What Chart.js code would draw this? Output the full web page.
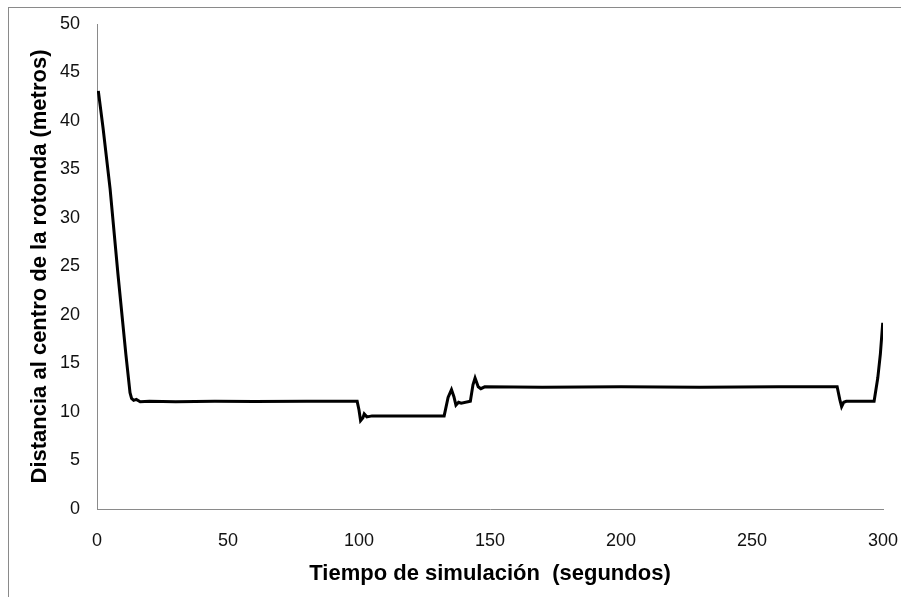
<!DOCTYPE html>
<html>
<head>
<meta charset="utf-8">
<script src="https://cdn.jsdelivr.net/npm/chart.js@4"></script>
<style>
  html, body { margin: 0; padding: 0; background: #fff; }
  #wrap { position: relative; width: 901px; height: 597px; }
  #frame { position: absolute; left: 8px; top: 7px; right: -2px; bottom: -2px;
           border-left: 1px solid #8a8a8a; border-top: 1px solid #8a8a8a; }
  canvas { position: absolute; left: 0; top: 0; }
</style>
</head>
<body>
<div id="wrap">
  <div id="frame"></div>
  <canvas id="myChart" width="901" height="597"></canvas>
</div>
<script>
// tiempo (s) y distancia (m)
const tiempo = [0.5, 2.3, 5, 8, 11, 12.6, 13.2, 14, 15, 16.5, 20, 30, 45, 60, 80, 99.3,
  100, 100.6, 101.5, 102, 103, 105, 120, 132.5,
  134, 135.3, 136.2, 137, 138, 139, 142.5,
  143.5, 144.3, 145.5, 146.5, 148, 170, 200, 230, 260, 282.5,
  283.5, 284.2, 285, 286, 296.6, 298, 299, 299.9];
const distancia = [43.1, 39.3, 33, 24.2, 16, 12, 11.4, 11.2, 11.3, 11.05, 11.1, 11.05, 11.1, 11.08, 11.1, 11.1,
  10.2, 9.1, 9.4, 9.8, 9.5, 9.6, 9.6, 9.6,
  11.5, 12.3, 11.6, 10.7, 11.0, 10.9, 11.1,
  12.8, 13.5, 12.6, 12.4, 12.6, 12.55, 12.6, 12.55, 12.6, 12.6,
  11.3, 10.55, 11.0, 11.1, 11.1, 13.5, 16, 19.2];
const xTicks = [0, 50, 100, 150, 200, 250, 300];
const yTicks = [0, 5, 10, 15, 20, 25, 30, 35, 40, 45, 50];

const puntos = tiempo.map((t, i) => ({ x: t, y: distancia[i] }));

const ctx = document.getElementById('myChart').getContext('2d');
const myChart = new Chart(ctx, {
  type: 'line',
  data: {
    datasets: [{
      data: puntos,
      borderColor: '#000',
      borderWidth: 3,
      pointRadius: 0,
      tension: 0,
      fill: false
    }]
  },
  options: {
    responsive: false,
    animation: false,
    layout: { padding: { left: 0, top: 24, right: 18, bottom: 0 } },
    plugins: { legend: { display: false }, tooltip: { enabled: false } },
    scales: {
      x: {
        type: 'linear',
        min: 0, max: 300,
        afterBuildTicks: (s) => { s.ticks = xTicks.map(v => ({ value: v })); },
        afterFit: (s) => { s.height = 88; s.paddingRight = 0; s.paddingLeft = 0; },
        grid: { display: false },
        border: { display: true, color: '#8a8a8a', width: 1 },
        ticks: { padding: 13, color: '#111', font: { family: 'Liberation Sans', size: 18 } },
        title: {
          display: true,
          text: 'Tiempo de simulación  (segundos)',
          color: '#000',
          font: { family: 'Liberation Sans', size: 22, weight: 'bold' },
          padding: { top: 0, bottom: 10 }
        }
      },
      y: {
        min: 0, max: 50,
        afterBuildTicks: (s) => { s.ticks = yTicks.map(v => ({ value: v })); },
        afterFit: (s) => { s.width = 97; },
        grid: { display: false },
        border: { display: true, color: '#8a8a8a', width: 1 },
        ticks: { padding: 9, color: '#111', font: { family: 'Liberation Sans', size: 18 } },
        title: {
          display: true,
          text: 'Distancia al centro de la rotonda (metros)',
          color: '#000',
          font: { family: 'Liberation Sans', size: 22, weight: 'bold' },
          padding: { top: 27, bottom: 0 }
        }
      }
    }
  }
});
</script>
</body>
</html>
